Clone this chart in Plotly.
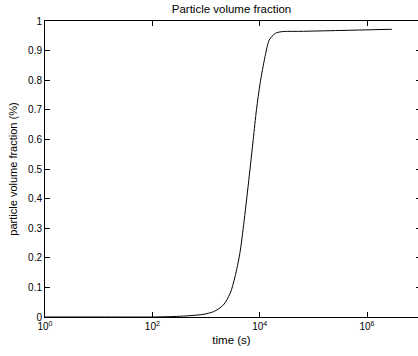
import plotly.graph_objects as go

# time (s) and particle volume fraction
time_s = [1, 10, 100, 280, 500, 890, 1380, 2090, 2820, 3470, 4270, 5130,
          6610, 7590, 8710, 10200, 12600, 15100, 19500, 25700, 56000, 316000, 2900000]
vol_frac = [0, 0, 0, 0.002, 0.0045, 0.009, 0.018, 0.040, 0.080, 0.136, 0.215, 0.325,
            0.50, 0.60, 0.70, 0.79, 0.88, 0.936, 0.958, 0.964, 0.965, 0.968, 0.972]

x_tickvals = [1, 100, 10000, 1000000]
x_ticktext = ["10<sup>0</sup>", "10<sup>2</sup>", "10<sup>4</sup>", "10<sup>6</sup>"]
y_tickvals = [0, 0.1, 0.2, 0.3, 0.4, 0.5, 0.6, 0.7, 0.8, 0.9, 1]
y_ticktext = ["0", "0.1", "0.2", "0.3", "0.4", "0.5", "0.6", "0.7", "0.8", "0.9", "1"]

fig = go.Figure()
fig.add_trace(go.Scatter(x=time_s, y=vol_frac, mode="lines",
                         line=dict(color="black", width=1, shape="spline", smoothing=0.8),
                         showlegend=False, hoverinfo="skip"))
# empty trace so the right-hand tick axis is drawn
fig.add_trace(go.Scatter(x=[None], y=[None], yaxis="y2", mode="lines",
                         showlegend=False, hoverinfo="skip"))

font_family = "Liberation Sans, Arial, sans-serif"
fig.update_layout(
    width=418, height=356,
    margin=dict(l=45, r=0, t=21, b=39),
    paper_bgcolor="white", plot_bgcolor="white",
    font=dict(family=font_family, size=10, color="black"),
    title=dict(text="Particle volume fraction", x=0.5, xref="paper", xanchor="center",
               y=0.985, yref="container", yanchor="top",
               font=dict(size=11.5, family=font_family, color="black")),
)
fig.update_xaxes(
    type="log", range=[0, 6.95],
    tickvals=x_tickvals, ticktext=x_ticktext,
    ticks="inside", ticklen=5, tickcolor="black", tickwidth=1,
    showline=True, linecolor="black", linewidth=1, mirror="ticks",
    showgrid=False, zeroline=False,
    title=dict(text="time (s)", standoff=4, font=dict(size=11.5)),
    tickfont=dict(size=10),
)
fig.update_layout(
    yaxis=dict(
        range=[0, 1],
        tickvals=y_tickvals, ticktext=y_ticktext,
        ticks="inside", ticklen=5, tickcolor="black", tickwidth=1,
        showline=True, linecolor="black", linewidth=1, mirror=False,
        showgrid=False, zeroline=False,
        title=dict(text="particle volume fraction (%)", standoff=8, font=dict(size=11)),
        tickfont=dict(size=10),
    ),
    yaxis2=dict(
        overlaying="y", side="right", range=[0, 1],
        tickvals=y_tickvals, showticklabels=False,
        ticks="inside", ticklen=2, tickcolor="black", tickwidth=1,
        showline=False, showgrid=False, zeroline=False,
    ),
)

fig.write_html("out.html")
